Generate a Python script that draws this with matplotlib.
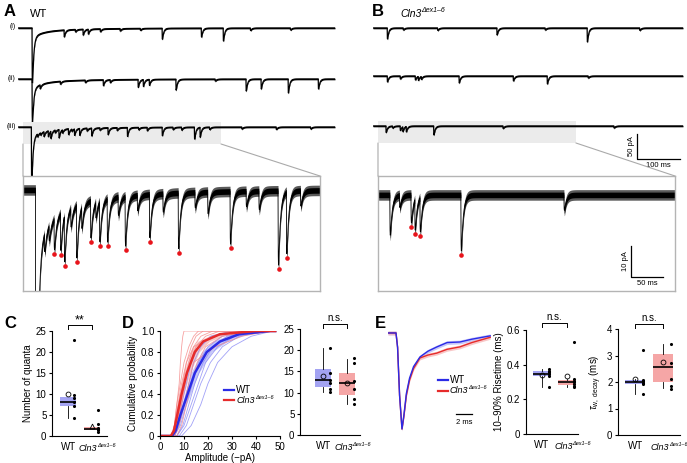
import numpy as np
import matplotlib
matplotlib.use('Agg')
import matplotlib.pyplot as plt
from matplotlib.patches import ConnectionPatch
from matplotlib.transforms import ScaledTranslation, blended_transform_factory

plt.rcParams['font.family'] = ['Liberation Sans', 'DejaVu Sans']
plt.rcParams['mathtext.fontset'] = 'custom'
plt.rcParams['mathtext.rm'] = 'Liberation Sans'
plt.rcParams['mathtext.it'] = 'Liberation Sans:italic'
plt.rcParams['axes.linewidth'] = 0.8

KO_MAIN = 'Cln3'
KO_SUP = '\u0394ex1\u20136'

# ---------------- data: example traces (event times ms, amplitudes pA) -------------
A1_t = [107, 133, 151, 163, 191, 237, 284, 335, 426, 477, 540, 633]
A1_a = [14, 5, 12, 10, 6, 5, 4, 22, 18, 26, 5, 4]
A2_t = [51, 98, 156, 198, 214, 279, 291, 305, 367, 458, 530, 565, 628, 698]
A2_a = [8, 6, 5, 12, 6, 16, 14, 12, 22, 4, 24, 20, 28, 20]
A3_dot_t = [60, 70, 76, 95, 117, 131, 143, 171, 209, 254, 335, 410, 423]
A3_dot_a = [10, 12, 15, 17, 12, 13, 14, 16, 14, 18, 17, 24, 20]
A3_t = [45, 52, 86, 103, 125, 160, 190, 230, 280, 300, 360, 380, 445, 520, 600, 680]
A3_a = [6, 5, 6, 7, 5, 6, 5, 6, 5, 7, 5, 6, 5, 4, 5, 4]
A_big_t = [32.6, 32.6, 31.0]      # large first event in (i), (ii), (iii)
A_big_a = [95, 70, 95]
B1_t = [33, 70, 150, 288, 400, 498, 620]
B1_a = [22, 4, 5, 14, 4, 28, 5]
B2_t = [33, 63, 98, 105, 112, 200, 326, 405, 500]
B2_a = [12, 6, 8, 8, 6, 14, 10, 16, 4]
B3_dot_t = [63, 69, 77, 141]
B3_dot_a = [9, 10, 11, 18]
B3_t = [30, 45, 302, 560]
B3_a = [13, 4, 5, 4]

# ---------------- data: cumulative amplitude distributions -------------------------
P_cell = [0, 0, 0.1, 0.3, 0.5, 0.7, 0.85, 0.95, 1.0, 1.0]
WT_cells = [
    [0, 6, 8, 10, 12, 14, 17, 21, 30, 48],
    [0, 5.5, 7, 9, 11, 13, 16, 22, 35, 48],
    [0, 7, 9.5, 12, 14.5, 18, 22, 28, 42, 48],
    [0, 8, 11, 14, 17, 21, 26, 33, 45, 48],
    [0, 9, 13, 17, 20, 24, 30, 38, 47, 48],
    [0, 6, 8.5, 11, 13.5, 16, 20, 26, 40, 48],
    [0, 7, 10, 13, 16, 19, 24, 31, 46, 48],
]
KO_cells = [
    [0, 5, 6, 7, 8, 8.5, 9, 9.5, 10, 48],
    [0, 5, 6.5, 8, 9.5, 11, 13, 15, 18, 48],
    [0, 6, 7.5, 9, 10.5, 12.5, 15, 19, 25, 48],
    [0, 5.5, 7, 8.5, 10, 12, 14, 17, 22, 48],
    [0, 4.5, 6, 7.5, 9, 11, 14, 22, 36, 48],
    [0, 7, 9, 11, 13, 15.5, 19, 26, 38, 48],
    [0, 6, 8, 10, 12, 14, 23, 34, 46, 48],
    [0, 5, 6, 7, 8.5, 10, 12, 14, 16, 48],
]
P_mean = [0, 0, 0.05, 0.2, 0.4, 0.6, 0.8, 0.9, 0.97, 1.0, 1.0]
WT_mean = [0, 5.0, 6.5, 8.5, 11.5, 14.5, 19.5, 25, 33, 46, 48]
WT_sem = [0, 0, 0.3, 0.8, 1.2, 1.6, 2.2, 3.0, 3.5, 0, 0]
KO_mean = [0, 4.5, 5.8, 7.2, 9.0, 11.2, 14.5, 18, 25, 40, 48]
KO_sem = [0, 0, 0.3, 0.7, 1.0, 1.3, 1.8, 2.5, 3.0, 0, 0]

# ---------------- data: average mEPSC waveforms (normalised) ------------------------
E_t = [0, 1.0, 1.2, 1.45, 1.75, 2.0, 2.3, 2.7, 3.2, 4.0, 5.0, 6.1, 7.4, 9.0, 10.5, 12.8]
E_WT = [0, 0, -0.15, -0.65, -1.0, -0.85, -0.63, -0.47, -0.35, -0.25, -0.19, -0.146,
        -0.10, -0.094, -0.065, -0.03]
E_KO = [0, 0, -0.15, -0.65, -1.0, -0.86, -0.65, -0.49, -0.37, -0.26, -0.23, -0.21,
        -0.17, -0.145, -0.10, -0.045]
E_sem = 0.02

# ---------------- data: summary box plots ------------------------------------------
C_stats = [dict(med=8.1, q1=7.1, q3=9.3, whislo=4.4, whishi=9.3, mean=10.1),
           dict(med=1.75, q1=1.35, q3=2.1, whislo=1.35, whishi=2.1, mean=2.3)]
C_pts = [[22.8, 9.8, 9.0, 8.0, 7.1, 4.4], [6.3, 2.9, 2.0, 1.6, 1.35, 1.0]]
Amp_stats = [dict(med=13.0, q1=11.3, q3=15.6, whislo=10.2, whishi=20.5, mean=14.0),
             dict(med=12.3, q1=9.4, q3=14.6, whislo=7.3, whishi=17.9, mean=12.3)]
Amp_pts = [[20.5, 14.6, 13.0, 12.2, 10.8, 10.1], [18.1, 17.0, 12.7, 10.8, 8.5, 7.3]]
Rise_stats = [dict(med=0.345, q1=0.335, q3=0.365, whislo=0.27, whishi=0.375, mean=0.34),
              dict(med=0.30, q1=0.285, q3=0.31, whislo=0.27, whishi=0.315, mean=0.335)]
Rise_pts = [[0.375, 0.365, 0.355, 0.345, 0.335, 0.27],
            [0.53, 0.32, 0.305, 0.30, 0.29, 0.275, 0.27]]
Tau_stats = [dict(med=2.0, q1=1.92, q3=2.08, whislo=1.55, whishi=2.1, mean=2.1),
             dict(med=2.56, q1=2.0, q3=3.06, whislo=1.77, whishi=3.45, mean=2.76)]
Tau_pts = [[3.2, 2.08, 2.02, 1.98, 1.92, 1.55], [3.45, 2.7, 2.1, 1.85, 1.75]]

BLUE = '#2b2be6'
RED = '#e62b2b'
BOX_C = ['#a3a3f2', '#f5a6a6']

# ---------------------------------------------------------------------------------
W, H = 687, 463
fig = plt.figure(figsize=(W / 100, H / 100), dpi=100)
renderer = fig.canvas.get_renderer()


def add_ax(x0, y0, x1, y1):
    return fig.add_axes([x0 / W, 1 - y1 / H, (x1 - x0) / W, (y1 - y0) / H])


def ftext(x, y, s, **kw):
    fig.text(x / W, 1 - y / H, s, **kw)


def ko_label(x, y, transform, ms, ss, ha='left', va='center', dx=0.0, dy=0.0):
    """Italic 'Cln3' with small superscript, placed at (x, y) in `transform`."""
    base = transform + ScaledTranslation(dx / 72, dy / 72, fig.dpi_scale_trans)
    t1 = fig.text(x, y, KO_MAIN, fontsize=ms, style='italic', ha='left', va=va,
                  transform=base)
    w1 = t1.get_window_extent(renderer).width * 72 / fig.dpi
    t2 = fig.text(x, y, KO_SUP, fontsize=ss, style='italic', ha='left', va=va,
                  transform=base + ScaledTranslation(w1 / 72, ms * 0.32 / 72,
                                                     fig.dpi_scale_trans))
    w2 = t2.get_window_extent(renderer).width * 72 / fig.dpi
    if ha == 'center':
        sh = ScaledTranslation(-(w1 + w2) / 2 / 72, 0, fig.dpi_scale_trans)
        t1.set_transform(t1.get_transform() + sh)
        t2.set_transform(t2.get_transform() + sh)


t = np.arange(0, 740, 0.1)


def kernel(t0, amp, tr=0.3, td=3.0):
    s = np.clip(t - t0, 0, None)
    k = np.exp(-s / td) - np.exp(-s / tr)
    k[t < t0] = 0
    return -amp * k / k.max()


def trace(times, amps, big=None):
    y = np.zeros_like(t)
    for t0, a in zip(times, amps):
        y += kernel(t0, a)
    if big is not None:
        t0, a = big
        y += kernel(t0, a, 0.4, 3.0)
        y += kernel(t0, 12, 0.5, 25.0)
        y += kernel(t0, 6, 0.5, 120.0)
    return y


trA = [trace(A1_t, A1_a, (A_big_t[0], A_big_a[0])),
       trace(A2_t, A2_a, (A_big_t[1], A_big_a[1])),
       trace(A3_t + A3_dot_t, A3_a + A3_dot_a, (A_big_t[2], A_big_a[2]))]
trB = [trace(B1_t, B1_a), trace(B2_t, B2_a), trace(B3_t + B3_dot_t, B3_a + B3_dot_a)]


def overview(x0, x1, ybase, tmax, y):
    ax = add_ax(x0, ybase - 15, x1, ybase + 55)
    ax.set_xlim(0, tmax)
    ax.set_ylim(-55 / 0.5, 15 / 0.5)
    ax.axis('off')
    m = t <= tmax
    ax.fill_between(t[m], y[m] - 1.6, y[m] + 1.6, color='k', lw=0, zorder=3)
    ax.plot(t[m], y[m], color='k', lw=0.9, zorder=3)
    return ax


axA = [overview(18, 335, yb, 737, y) for yb, y in zip([28, 79, 127], trA)]
axB = [overview(373, 683, yb, 721, y) for yb, y in zip([28, 76, 126], trB)]

Z0, Z1 = 11.6, 472.0
for ax in (axA[2], axB[2]):
    ax.fill_between([Z0, Z1], -34, 10, color='#ebebeb', lw=0, zorder=1)


def zoom(x0, x1, ylo, yhi, y, dots_t, over):
    ax = add_ax(x0, 176, x1, 291)
    m = (t >= Z0 - 1) & (t <= Z1 + 5)
    ax.fill_between(t[m], y[m] - 1.7, y[m] + 1.7, color='#5a5a5a', lw=0)
    ax.fill_between(t[m], y[m] - 0.9, y[m] + 0.9, color='k', lw=0)
    ax.plot(t[m], y[m], color='k', lw=0.6)
    for td in dots_t:
        w = (t >= td) & (t <= td + 2.5)
        ax.scatter([t[w][np.argmin(y[w])]], [y[w].min() - 1.3], s=11, color='#e8141b',
                   zorder=5, lw=0)
    ax.set_xlim(Z0, Z1 + 3.6)
    ax.set_ylim(ylo, yhi)
    ax.set_xticks([])
    ax.set_yticks([])
    for s in ax.spines.values():
        s.set_color('#b4b4b4')
        s.set_linewidth(1.0)
    for xa, xb in [((Z0, -34), (0, 1)), ((Z1, -34), (1, 1))]:
        cp = ConnectionPatch(xyA=xa, coordsA=over.transData, xyB=xb, coordsB=ax.transAxes,
                             color='#aaaaaa', lw=0.8)
        fig.add_artist(cp)
    return ax


zA = zoom(23, 320, -32.6, 4.5, trA[2], A3_dot_t, axA[2])
zB = zoom(378, 675, -31.0, 6.1, trB[2], B3_dot_t, axB[2])

# scale bars
sb = axB[2]
sb.plot([614, 614, 714], [-16, -66, -66], color='k', lw=0.9, clip_on=False)
sb.text(602, -41, '50 pA', rotation=90, ha='center', va='center', fontsize=5.5)
sb.text(664, -79, '100 ms', ha='center', va='center', fontsize=5.5)
zB.plot([407, 407, 457], [-16.5, -26.5, -26.5], color='k', lw=0.9)
zB.text(398, -21.5, '10 pA', rotation=90, ha='center', va='center', fontsize=5.5)
zB.text(432, -28.6, '50 ms', ha='center', va='center', fontsize=5.5)

ftext(4, 12, 'A', fontsize=12, fontweight='bold', va='center')
ftext(30, 14, 'WT', fontsize=8, va='center')
ftext(372, 12, 'B', fontsize=12, fontweight='bold', va='center')
ko_label(400 / W, 1 - 14 / H, fig.transFigure, 7.5, 5, ha='left')
for s, yy in [('(i)', 26), ('(ii)', 78), ('(iii)', 126)]:
    ftext(16, yy, s, fontsize=5, ha='right', va='center')

ftext(4, 323, 'C', fontsize=12, fontweight='bold', va='center')
ftext(122, 323, 'D', fontsize=12, fontweight='bold', va='center')
ftext(375, 323, 'E', fontsize=12, fontweight='bold', va='center')


def style(ax):
    for s in ['top', 'right']:
        ax.spines[s].set_visible(False)
    ax.tick_params(axis='y', direction='out', length=2.5, width=0.8, labelsize=7, pad=1.5)
    ax.tick_params(axis='x', direction='out', length=0, labelsize=7, pad=4)


def boxpanel(ax, stats, pts, xlim, ylim, yticks, yticklabels, ylabel, bracket, sig,
             ko_marker='o'):
    st = []
    for s in stats:
        d = dict(s)
        d['fliers'] = []
        st.append(d)
    bp = ax.bxp(st, positions=[1, 2], widths=0.7, patch_artist=True, showmeans=False,
                showfliers=False, showcaps=False,
                boxprops=dict(linewidth=0),
                medianprops=dict(color='k', lw=1.2),
                whiskerprops=dict(color='k', lw=0.6))
    for p, c in zip(bp['boxes'], BOX_C):
        p.set_facecolor(c)
    for i, (s, mk) in enumerate(zip(stats, ['o', ko_marker])):
        ax.plot([i + 1], [s['mean']], marker=mk, mfc='none', mec='k', ms=3.5, mew=0.6,
                zorder=5)
    for i, pp in enumerate(pts):
        ax.scatter(np.full(len(pp), i + 1.27), pp, s=5, color='k', lw=0, zorder=4)
    ax.set_xlim(*xlim)
    ax.set_ylim(*ylim)
    ax.set_yticks(yticks)
    ax.set_yticklabels(yticklabels)
    ax.set_xticks([1, 2])
    ax.set_xticklabels(['WT', ''])
    ax.set_ylabel(ylabel, fontsize=7, labelpad=2)
    b0, b1, bt = bracket
    ax.plot([1, 1, 2, 2], [b0, b1, b1, b0], color='k', lw=0.7, clip_on=False)
    ax.text(1.5, bt, sig, ha='center', va='bottom', fontsize=7 if sig == 'n.s.' else 9,
            clip_on=False)
    style(ax)
    tr = blended_transform_factory(ax.transData, ax.transAxes)
    ko_label(2, 0, tr, 6.5, 4.0, ha='center', va='center', dx=4.0, dy=-9.0)


axC = add_ax(52, 331, 107, 436)
boxpanel(axC, C_stats, C_pts, (0.33, 2.63), (0, 25), range(0, 26, 5),
         [str(v) for v in range(0, 26, 5)], 'Number of quanta', (25.5, 26.4, 26.0), '**',
         ko_marker='^')

axAmp = add_ax(300, 329, 360, 435)
boxpanel(axAmp, Amp_stats, Amp_pts, (0.04, 2.54), (0, 25), range(0, 26, 5),
         [str(v) for v in range(0, 26, 5)], 'Amplitude (\u2212pA)', (25.2, 26.2, 26.4), 'n.s.')

axR = add_ax(526, 330, 578, 434)
boxpanel(axR, Rise_stats, Rise_pts, (0.36, 2.44), (0, 0.6), [0, 0.2, 0.4, 0.6],
         ['0', '0.2', '0.4', '0.6'], '10\u201390% Risetime (ms)', (0.615, 0.638, 0.645), 'n.s.')

axT = add_ax(618, 329, 680, 435)
boxpanel(axT, Tau_stats, Tau_pts, (0.39, 2.6), (0, 4), range(0, 5),
         [str(v) for v in range(0, 5)], r'$\tau_{\mathrm{w,\ decay}}$ (ms)',
         (4.04, 4.19, 4.23), 'n.s.')

# D cumulative
axD = add_ax(160, 331, 280, 436)
for c in WT_cells:
    axD.plot(c, P_cell, color='#8a8af5', lw=0.6, alpha=0.8)
for c in KO_cells:
    axD.plot(c, P_cell, color='#f58a8a', lw=0.6, alpha=0.8)
for mean, sem, col, band in [(WT_mean, WT_sem, BLUE, '#b9b9f7'), (KO_mean, KO_sem, RED, '#f7b9b9')]:
    mean = np.array(mean)
    sem = np.array(sem)
    axD.fill_betweenx(P_mean, mean - sem, mean + sem, color=band, alpha=0.8, lw=0)
for mean, col in [(WT_mean, BLUE), (KO_mean, RED)]:
    axD.plot(mean, P_mean, color=col, lw=1.8)
axD.set_xlim(0, 50)
axD.set_ylim(0, 1.0)
axD.set_xticks(range(0, 51, 10))
axD.set_yticks([0, 0.2, 0.4, 0.6, 0.8, 1.0])
axD.set_yticklabels(['0', '0.2', '0.4', '0.6', '0.8', '1.0'])
axD.set_xlabel('Amplitude (\u2212pA)', fontsize=7, labelpad=1)
axD.set_ylabel('Cumulative probability', fontsize=7, labelpad=2)
style(axD)
axD.tick_params(axis='x', length=2.5, width=0.8, pad=1.5)
for yy, col in [(0.44, BLUE), (0.34, RED)]:
    axD.plot([0.53, 0.62], [yy, yy], color=col, lw=1.6, transform=axD.transAxes)
axD.text(0.635, 0.44, 'WT', fontsize=7, va='center', transform=axD.transAxes)
ko_label(0.635, 0.34, axD.transAxes, 6.5, 4.0, ha='left')

# E waveforms
axE = add_ax(388, 325, 491, 435)
Et = np.array(E_t)
for y, col, band in [(E_WT, BLUE, '#b9b9f7'), (E_KO, RED, '#f7b9b9')]:
    y = np.array(y)
    axE.fill_between(Et, y - E_sem, y + E_sem, color=band, lw=0, alpha=0.8)
for y, col in [(E_KO, RED), (E_WT, BLUE)]:
    axE.plot(Et, y, color=col, lw=1.0)
axE.set_xlim(0, 12.9)
axE.set_ylim(-1.0625, 0.083)
axE.axis('off')
axE.plot([8.5, 10.5], [-0.84, -0.84], color='k', lw=0.9)
axE.text(9.5, -0.93, '2 ms', ha='center', va='center', fontsize=5.5)
for yy, col in [(-0.49, BLUE), (-0.60, RED)]:
    axE.plot([6.25, 7.5], [yy, yy], color=col, lw=1.6)
axE.text(7.7, -0.49, 'WT', fontsize=7, va='center')
ko_label(7.7, -0.60, axE.transData, 6.5, 4.0, ha='left')

fig.savefig('out.png', dpi=100)
